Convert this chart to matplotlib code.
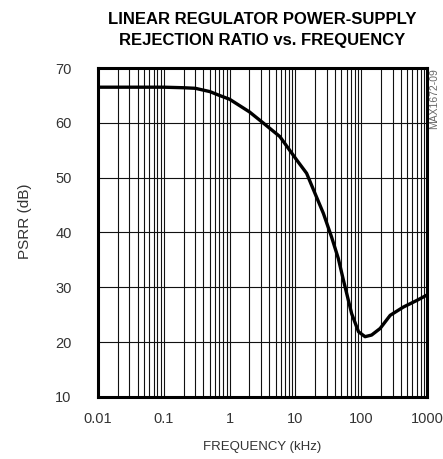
import matplotlib
matplotlib.use("Agg")
import matplotlib.pyplot as plt
import matplotlib.ticker as mticker

# ── DATA ──────────────────────────────────────────────────────────────────────
freq_khz = [0.01, 0.03, 0.1, 0.2, 0.3, 0.5, 0.7, 1.0, 2.0, 3.3, 5.8, 10.5,
            14.8, 19.9, 26.6, 35.4, 44.8, 53.7, 71.6, 91, 114.5, 144, 194,
            276, 437, 697, 1000]
psrr_db = [66.5, 66.5, 66.5, 66.4, 66.3, 65.7, 65.0, 64.3, 62.0, 59.9, 57.5,
           53.2, 50.8, 47.1, 43.5, 39.2, 35.3, 31.3, 25.2, 21.9, 21.0, 21.3,
           22.5, 24.9, 26.4, 27.6, 28.6]

x_ticks = [0.01, 0.1, 1, 10, 100, 1000]
x_tick_labels = ["0.01", "0.1", "1", "10", "100", "1000"]
y_ticks = [10, 20, 30, 40, 50, 60, 70]

TITLE = "LINEAR REGULATOR POWER-SUPPLY\nREJECTION RATIO vs. FREQUENCY"
TEXT_COLOR = "#333333"

# ── STYLE ─────────────────────────────────────────────────────────────────────
plt.rcParams["font.family"] = ["Liberation Sans", "DejaVu Sans"]

fig = plt.figure(figsize=(4.43, 4.59), dpi=100)
ax = fig.add_axes([98 / 443, 1 - 397 / 459, 329 / 443, 329 / 459])

ax.set_xscale("log")
ax.set_xlim(0.01, 1000)
ax.set_ylim(10, 70)

# grid: every minor decade line plus 10 dB lines
ax.xaxis.set_minor_locator(mticker.LogLocator(base=10, subs=range(2, 10), numticks=50))
ax.xaxis.set_minor_formatter(mticker.NullFormatter())
ax.set_xticks(x_ticks)
ax.set_xticklabels(x_tick_labels)
ax.set_yticks(y_ticks)
ax.grid(True, which="both", axis="x", color="#111111", lw=0.8)
ax.grid(True, which="major", axis="y", color="#111111", lw=0.8)
ax.tick_params(which="both", length=0, labelsize=10.5, colors=TEXT_COLOR)
ax.tick_params(axis="y", pad=19)
ax.tick_params(axis="x", pad=11)

for s in ax.spines.values():
    s.set_linewidth(2.2)
    s.set_color("black")

ax.plot(freq_khz, psrr_db, color="black", lw=2.4, solid_capstyle="round",
        solid_joinstyle="round")

fig.text(262 / 443, 1 - 447 / 459, "FREQUENCY (kHz)", ha="center", va="center",
         fontsize=9.5, color=TEXT_COLOR)
fig.text(25 / 443, 1 - 221 / 459, "PSRR (dB)", rotation=90, ha="center",
         va="center", fontsize=11, color=TEXT_COLOR)

fig.text(262 / 443, 1 - 30 / 459, TITLE, ha="center", va="center",
         fontsize=12, fontweight="bold", linespacing=1.5)
fig.text(434 / 443, 1 - 68 / 459, "MAX1672-09", rotation=90, ha="center",
         va="top", fontsize=7.5, color="#666666")

fig.savefig("out.png", dpi=100)
